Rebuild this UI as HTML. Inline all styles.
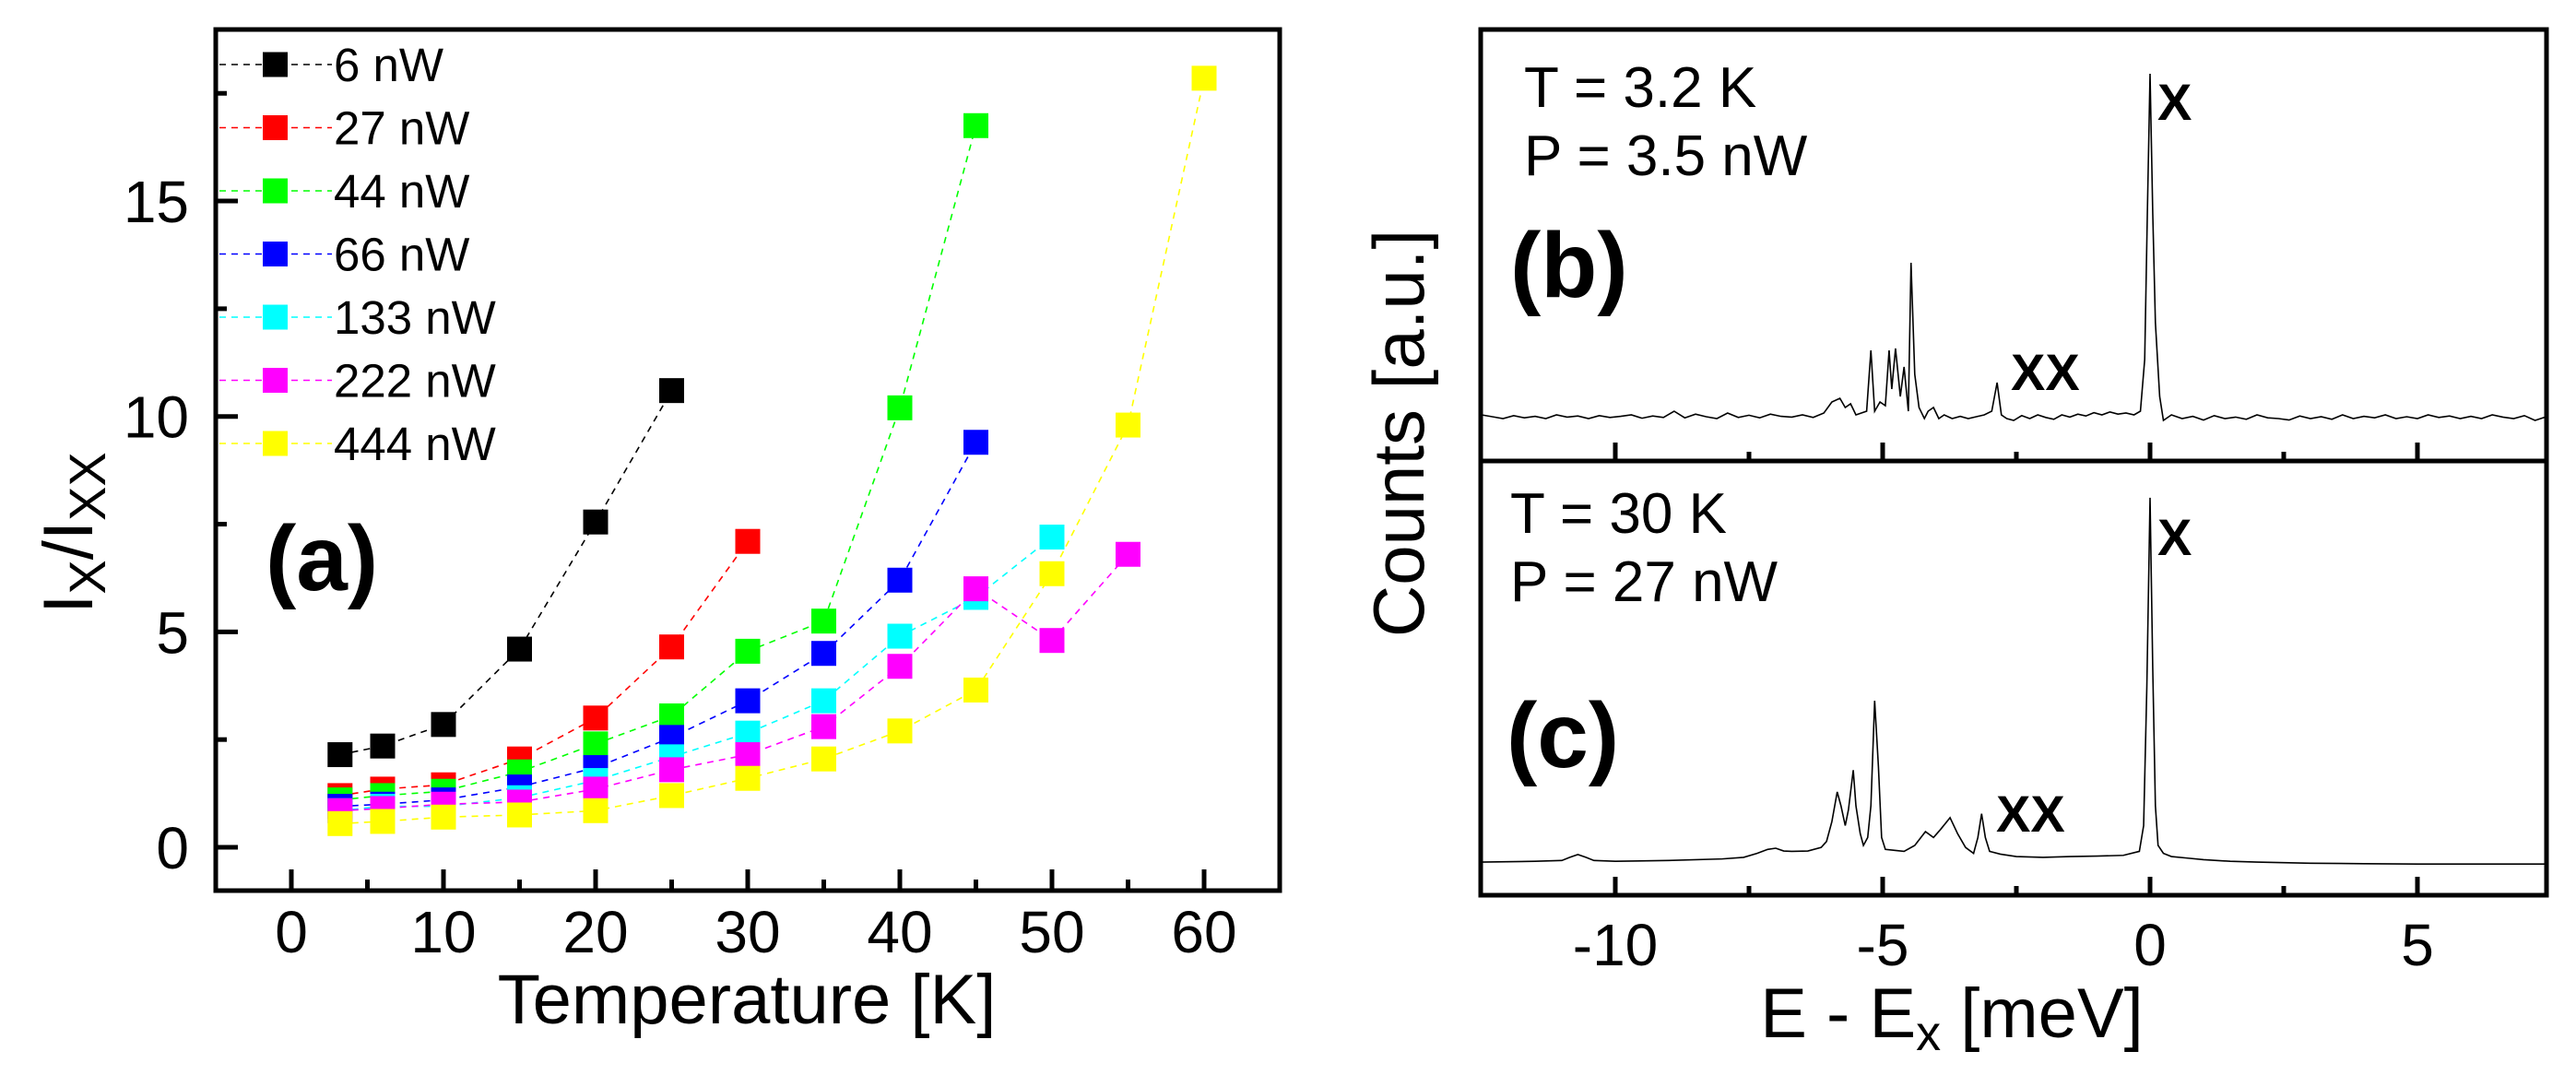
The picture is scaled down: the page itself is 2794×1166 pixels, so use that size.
<!DOCTYPE html>
<html><head><meta charset="utf-8"><title>Exciton ratio and spectra</title>
<style>
html,body{margin:0;padding:0;background:#fff;}
svg{display:block;font-family:"Liberation Sans",Arial,sans-serif;}
</style></head>
<body>
<svg id="fig" xmlns="http://www.w3.org/2000/svg" width="2794" height="1166" viewBox="0 0 2794 1166">
<rect x="0" y="0" width="2794" height="1166" fill="#fff"/>
<g id="left"></g>
<g id="right"></g>
</svg>
<script>
// ---------- Panel (a) data ----------
const seriesNames = ["6 nW","27 nW","44 nW","66 nW","133 nW","222 nW","444 nW"];
const seriesColors = ["#000000","#ff0000","#00ff00","#0000ff","#00ffff","#ff00ff","#ffff00"];
const temps = [3.2,6,10,15,20,25,30,35,40,45,50,55,60];
const ratio6 = [2.15,2.35,2.85,4.6,7.55,10.6];
const ratio27 = [1.2,1.35,1.45,2.05,3.0,4.65,7.1];
const ratio44 = [1.1,1.2,1.3,1.75,2.4,3.05,4.55,5.25,10.2,16.75];
const ratio66 = [0.95,1.0,1.1,1.4,1.85,2.55,3.4,4.5,6.2,9.4];
const ratio133 = [0.85,0.95,0.95,1.15,1.55,2.1,2.65,3.4,4.9,5.8,7.2];
const ratio222 = [0.85,0.9,1.0,1.05,1.35,1.8,2.15,2.8,4.2,6.0,4.8,6.8];
const ratio444 = [0.55,0.6,0.7,0.75,0.85,1.2,1.6,2.05,2.7,3.65,6.35,9.8,17.85];
const xTicksA = [0,10,20,30,40,50,60];
const yTicksA = [0,5,10,15];

// ---------- Panel (b),(c) data ----------
const energyB = [-12.5,-12.3,-12.1,-11.9,-11.7,-11.5,-11.3,-11.1,-10.9,-10.7,-10.5,-10.3,-10.1,-9.9,-9.7,-9.5,-9.3,-9.1,-8.9,-8.7,-8.5,-8.3,-8.1,-7.9,-7.7,-7.5,-7.3,-7.1,-6.9,-6.7,-6.5,-6.3,-6.1,-5.95,-5.8,-5.7,-5.6,-5.5,-5.4,-5.3,-5.22,-5.15,-5.05,-4.95,-4.88,-4.83,-4.76,-4.67,-4.6,-4.52,-4.47,-4.4,-4.32,-4.22,-4.15,-4.05,-3.95,-3.85,-3.7,-3.55,-3.4,-3.25,-3.1,-2.96,-2.86,-2.78,-2.68,-2.55,-2.4,-2.25,-2.1,-1.95,-1.8,-1.65,-1.5,-1.35,-1.2,-1.05,-0.9,-0.75,-0.6,-0.45,-0.3,-0.18,-0.1,-0.05,0,0.05,0.1,0.18,0.25,0.4,0.6,0.8,1.0,1.2,1.4,1.6,1.8,2.0,2.2,2.4,2.6,2.8,3.0,3.2,3.4,3.6,3.8,4.0,4.2,4.4,4.6,4.8,5.0,5.2,5.4,5.6,5.8,6.0,6.2,6.4,6.6,6.8,7.0,7.2,7.41];
const countsB = [0.05,0.045,0.04,0.048,0.042,0.046,0.04,0.05,0.044,0.047,0.04,0.048,0.043,0.046,0.05,0.041,0.047,0.043,0.06,0.042,0.052,0.045,0.04,0.055,0.043,0.049,0.042,0.052,0.046,0.044,0.05,0.043,0.055,0.085,0.095,0.07,0.08,0.05,0.055,0.06,0.225,0.06,0.085,0.075,0.225,0.12,0.23,0.1,0.18,0.06,0.4625,0.16,0.07,0.04,0.06,0.07,0.04,0.05,0.04,0.046,0.04,0.045,0.05,0.06,0.1375,0.05,0.04,0.035,0.048,0.04,0.05,0.043,0.038,0.05,0.044,0.052,0.047,0.056,0.05,0.058,0.052,0.055,0.05,0.06,0.2,0.6,0.975,0.6,0.3,0.1,0.035,0.05,0.04,0.046,0.036,0.048,0.04,0.044,0.038,0.05,0.042,0.04,0.036,0.047,0.04,0.045,0.038,0.05,0.04,0.046,0.042,0.05,0.04,0.045,0.04,0.05,0.043,0.047,0.04,0.046,0.04,0.05,0.044,0.04,0.048,0.035,0.045];
const energyC = [-12.5,-11.5,-11.0,-10.85,-10.7,-10.55,-10.4,-10.0,-9.0,-8.0,-7.6,-7.35,-7.15,-7.0,-6.85,-6.7,-6.4,-6.15,-6.05,-5.95,-5.85,-5.78,-5.7,-5.64,-5.55,-5.5,-5.42,-5.36,-5.28,-5.22,-5.15,-5.08,-5.02,-4.95,-4.8,-4.6,-4.4,-4.2,-4.05,-3.92,-3.74,-3.6,-3.45,-3.3,-3.22,-3.15,-3.08,-3.0,-2.8,-2.5,-2.0,-1.5,-1.0,-0.5,-0.2,-0.12,-0.06,0,0.05,0.1,0.15,0.25,0.4,0.7,1.0,1.5,2.0,3.0,4.0,5.0,6.0,7.41];
const countsC = [0.058,0.06,0.062,0.07,0.077,0.07,0.062,0.06,0.062,0.066,0.07,0.08,0.09,0.093,0.086,0.085,0.086,0.095,0.11,0.16,0.235,0.2,0.15,0.19,0.29,0.2,0.13,0.1,0.12,0.2,0.465,0.3,0.12,0.09,0.088,0.085,0.1,0.135,0.12,0.14,0.17,0.13,0.095,0.08,0.12,0.18,0.12,0.085,0.078,0.072,0.07,0.072,0.073,0.075,0.085,0.15,0.5,0.977,0.55,0.2,0.1,0.08,0.072,0.068,0.064,0.06,0.058,0.055,0.054,0.053,0.053,0.053];
const xTicksB = [-10,-5,0,5];

const NS = "http://www.w3.org/2000/svg";
function mk(parent, tag, attrs, text) {
  const e = document.createElementNS(NS, tag);
  for (const k in attrs) e.setAttribute(k, attrs[k]);
  if (text !== undefined) e.textContent = text;
  parent.appendChild(e);
  return e;
}

// ---------- Panel (a) ----------
const L = document.getElementById('left');
const axL = 234, axR = 1388, axT = 32, axB = 966;
const xA = t => 316 + t * 16.5;
const yA = v => 919 - v * 46.73;
const allRatios = [ratio6, ratio27, ratio44, ratio66, ratio133, ratio222, ratio444];

allRatios.forEach((vals, si) => {
  const g = mk(L, 'g', {});
  
  
  const pts = vals.map((v, i) => xA(temps[i]) + ',' + yA(v)).join(' ');
  const ln = mk(g, 'polyline', {points: pts, fill: 'none', stroke: seriesColors[si], 'stroke-width': 1.6, 'stroke-dasharray': '7,6'});
  
  
  vals.forEach((v, i) => {
    const r = mk(g, 'rect', {x: xA(temps[i]) - 13.5, y: yA(v) - 13.5, width: 27, height: 27, fill: seriesColors[si]});
    
    
  });
});

const fr = mk(L, 'rect', {x: axL, y: axT, width: axR - axL, height: axB - axT, fill: 'none', stroke: '#000', 'stroke-width': 5});



for (let t = 0; t <= 60; t += 5) {
  const major = t % 10 === 0;
  const tk = mk(L, 'line', {x1: xA(t), x2: xA(t), y1: axB, y2: axB - (major ? 23 : 12), stroke: '#000', 'stroke-width': 5});
  
  
}
xTicksA.forEach(t => {
  const tl = mk(L, 'text', {x: xA(t), y: 1033, 'font-size': 64, 'text-anchor': 'middle'}, String(t));
  
  
});
for (let v = 0; v <= 17.5; v += 2.5) {
  const major = v % 5 === 0;
  const tk = mk(L, 'line', {x1: axL, x2: axL + (major ? 24 : 12), y1: yA(v), y2: yA(v), stroke: '#000', 'stroke-width': 5});
  
  
}
yTicksA.forEach(v => {
  const tl = mk(L, 'text', {x: 205, y: yA(v) + 23, 'font-size': 64, 'text-anchor': 'end'}, String(v));
  
  
});

seriesNames.forEach((n, i) => {
  const cy = 70 + i * 68.5;
  const g = mk(L, 'g', {});
  
  
  mk(g, 'line', {x1: 238, x2: 360, y1: cy, y2: cy, stroke: seriesColors[i], 'stroke-width': 1.6, 'stroke-dasharray': '7,6'});
  mk(g, 'rect', {x: 285, y: cy - 13.5, width: 27, height: 27, fill: seriesColors[i]});
  mk(g, 'text', {x: 362, y: cy + 18, 'font-size': 51}, n);
});

const pa = mk(L, 'text', {x: 288, y: 640, 'font-size': 100, 'font-weight': 'bold'}, '(a)');



const xt = mk(L, 'text', {x: 810, y: 1110, 'font-size': 76, 'text-anchor': 'middle'}, 'Temperature [K]');



const yt = mk(L, 'text', {transform: 'translate(100,578) rotate(-90)', 'font-size': 76, 'text-anchor': 'middle'});


mk(yt, 'tspan', {}, 'I');
mk(yt, 'tspan', {'font-size': 56, dy: 14}, 'X');
mk(yt, 'tspan', {dy: -14}, '/I');
mk(yt, 'tspan', {'font-size': 56, dy: 14}, 'XX');

// ---------- Panels (b),(c) ----------
const R = document.getElementById('right');
const rL = 1606, rR = 2762, rT = 32, rMid = 500, rB = 971;
const xE = e => 2332 + e * 58;
const yBp = v => 470 - v * 400;
const yCp = v => 960 - v * 430;

const sb = mk(R, 'polyline', {points: energyB.map((e, i) => xE(e) + ',' + yBp(countsB[i])).join(' '), fill: 'none', stroke: '#000', 'stroke-width': 1.6});


const sc = mk(R, 'polyline', {points: energyC.map((e, i) => xE(e) + ',' + yCp(countsC[i])).join(' '), fill: 'none', stroke: '#000', 'stroke-width': 1.6});



const rf = mk(R, 'rect', {x: rL, y: rT, width: rR - rL, height: rB - rT, fill: 'none', stroke: '#000', 'stroke-width': 5});


const dv = mk(R, 'line', {x1: rL, x2: rR, y1: rMid, y2: rMid, stroke: '#000', 'stroke-width': 5});



for (let e = -10; e <= 7.4; e += 2.5) {
  const major = e % 5 === 0;
  [rMid, rB].forEach(yb => {
    const tk = mk(R, 'line', {x1: xE(e), x2: xE(e), y1: yb, y2: yb - (major ? 20 : 10), stroke: '#000', 'stroke-width': 5});
    
    
  });
}
xTicksB.forEach(e => {
  const tl = mk(R, 'text', {x: xE(e), y: 1047, 'font-size': 64, 'text-anchor': 'middle'}, String(e));
  
  
});

const labels = [
  ['T = 3.2 K', 1653, 116, 62, 'normal', 'annotation-temperature-b'],
  ['P = 3.5 nW', 1653, 190, 62, 'normal', 'annotation-power-b'],
  ['(b)', 1638, 322, 100, 'bold', 'panel-label-b'],
  ['X', 2340, 130, 56, 'bold', 'peak-label-x-b'],
  ['XX', 2181, 423, 56, 'bold', 'peak-label-xx-b'],
  ['T = 30 K', 1638, 578, 62, 'normal', 'annotation-temperature-c'],
  ['P = 27 nW', 1638, 652, 62, 'normal', 'annotation-power-c'],
  ['(c)', 1634, 832, 100, 'bold', 'panel-label-c'],
  ['X', 2340, 602, 56, 'bold', 'peak-label-x-c'],
  ['XX', 2165, 902, 56, 'bold', 'peak-label-xx-c']
];
labels.forEach(l => {
  const t = mk(R, 'text', {x: l[1], y: l[2], 'font-size': l[3], 'font-weight': l[4]}, l[0]);
  
  
});

const ex = mk(R, 'text', {x: 2117, y: 1125, 'font-size': 76, 'text-anchor': 'middle'});


mk(ex, 'tspan', {}, 'E - E');
mk(ex, 'tspan', {'font-size': 54, dy: 14}, 'x');
mk(ex, 'tspan', {dy: -14}, ' [meV]');

const cy = mk(R, 'text', {transform: 'translate(1544,470) rotate(-90)', 'font-size': 78, 'text-anchor': 'middle'}, 'Counts [a.u.]');


</script>
</body></html>
